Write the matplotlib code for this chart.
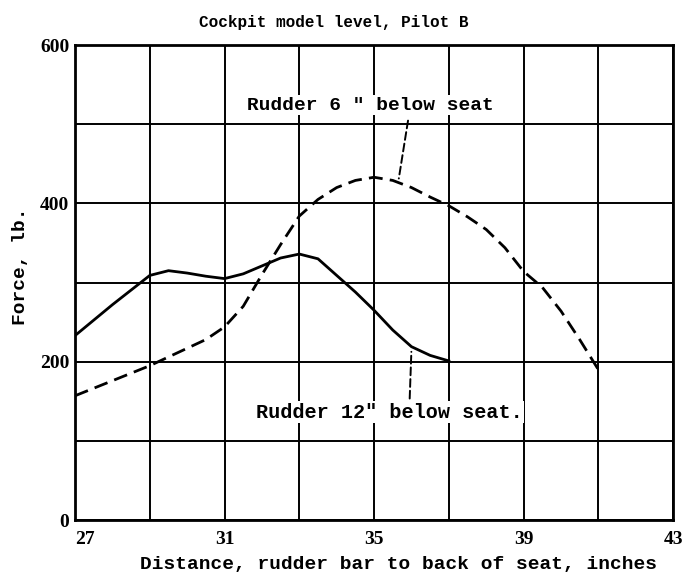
import matplotlib
matplotlib.use("Agg")
from matplotlib import pyplot as plt

# Rudder 12" below seat (solid)
dist_12 = [27, 28, 29, 29.5, 30, 30.5, 31, 31.5, 32, 32.5, 33, 33.5, 34, 34.5, 35, 35.5, 36, 36.5, 37]
force_12 = [233, 272, 309, 315, 312, 308, 305, 311, 321, 331, 336, 330, 309, 288, 265, 240, 219, 208, 201]

# Rudder 6" below seat (dashed)
dist_6 = [27, 28, 29, 30, 30.5, 31, 31.5, 32, 32.5, 33, 33.5, 34, 34.5, 35, 35.5, 36, 36.5, 37,
          37.5, 38, 38.5, 39, 39.5, 40, 40.5, 41]
force_6 = [157, 176, 195, 217, 228, 244, 270, 310, 348, 384, 405, 420, 429, 433, 429, 420, 408, 397,
           383, 367, 344, 314, 294, 264, 228, 190]

x_ticks = [27, 29, 31, 33, 35, 37, 39, 41, 43]
x_labels = ['27', '', '31', '', '35', '', '39', '', '43']
y_ticks = [0, 100, 200, 300, 400, 500, 600]
y_labels = ['0', '', '200', '', '400', '', '600']

mono = ['Liberation Mono', 'DejaVu Sans Mono']
num = ['Liberation Serif', 'DejaVu Serif']

fig = plt.figure(figsize=(6.82, 5.85), dpi=100)
ax = fig.add_axes([0.110, 0.111, 0.877, 0.812])

ax.plot(dist_12, force_12, 'k-', lw=2.0)
ax.plot(dist_6, force_6, color='black', lw=2.0, ls=(0, (5, 2.6)))

ax.set_xlim(27, 43)
ax.set_ylim(0, 600)
ax.set_xticks(x_ticks)
ax.set_xticklabels(x_labels, fontfamily=num, fontweight='bold', fontsize=14)
ax.set_yticks(y_ticks)
ax.set_yticklabels(y_labels, fontfamily=num, fontweight='bold', fontsize=14)
ax.tick_params(length=0)
ax.tick_params(axis='x', pad=8)
ax.tick_params(axis='y', pad=4)
ax.get_xticklabels()[0].set_ha('left')
ax.grid(True, color='black', lw=1.4)
for s in ax.spines.values():
    s.set_linewidth(2)

# leaders
lead = dict(arrowstyle='-', color='black', lw=1.4, ls=(0, (4, 2)))
ax.annotate('', xy=(35.65, 428), xytext=(35.92, 508), arrowprops=lead)
ax.annotate('', xy=(36.0, 216), xytext=(35.95, 150), arrowprops=lead)

ax.text(34.9, 524, 'Rudder 6 " below seat', ha='center', va='center', fontsize=14,
        fontfamily=mono, fontweight='bold',
        bbox=dict(facecolor='white', edgecolor='none', pad=1))
ax.text(35.4, 136, 'Rudder 12" below seat.', ha='center', va='center', fontsize=14.5,
        fontfamily=mono, fontweight='bold',
        bbox=dict(facecolor='white', edgecolor='none', pad=1))

fig.text(0.49, 0.962, 'Cockpit model level, Pilot B', ha='center', va='center',
         fontsize=11.5, fontfamily=mono, fontweight='bold')
fig.text(0.585, 0.035, 'Distance, rudder bar to back of seat, inches', ha='center', va='center',
         fontsize=14, fontfamily=mono, fontweight='bold')
fig.text(0.03, 0.545, 'Force, lb.', ha='center', va='center', rotation=90,
         fontsize=14, fontfamily=mono, fontweight='bold')

fig.savefig('out.png', dpi=100)
